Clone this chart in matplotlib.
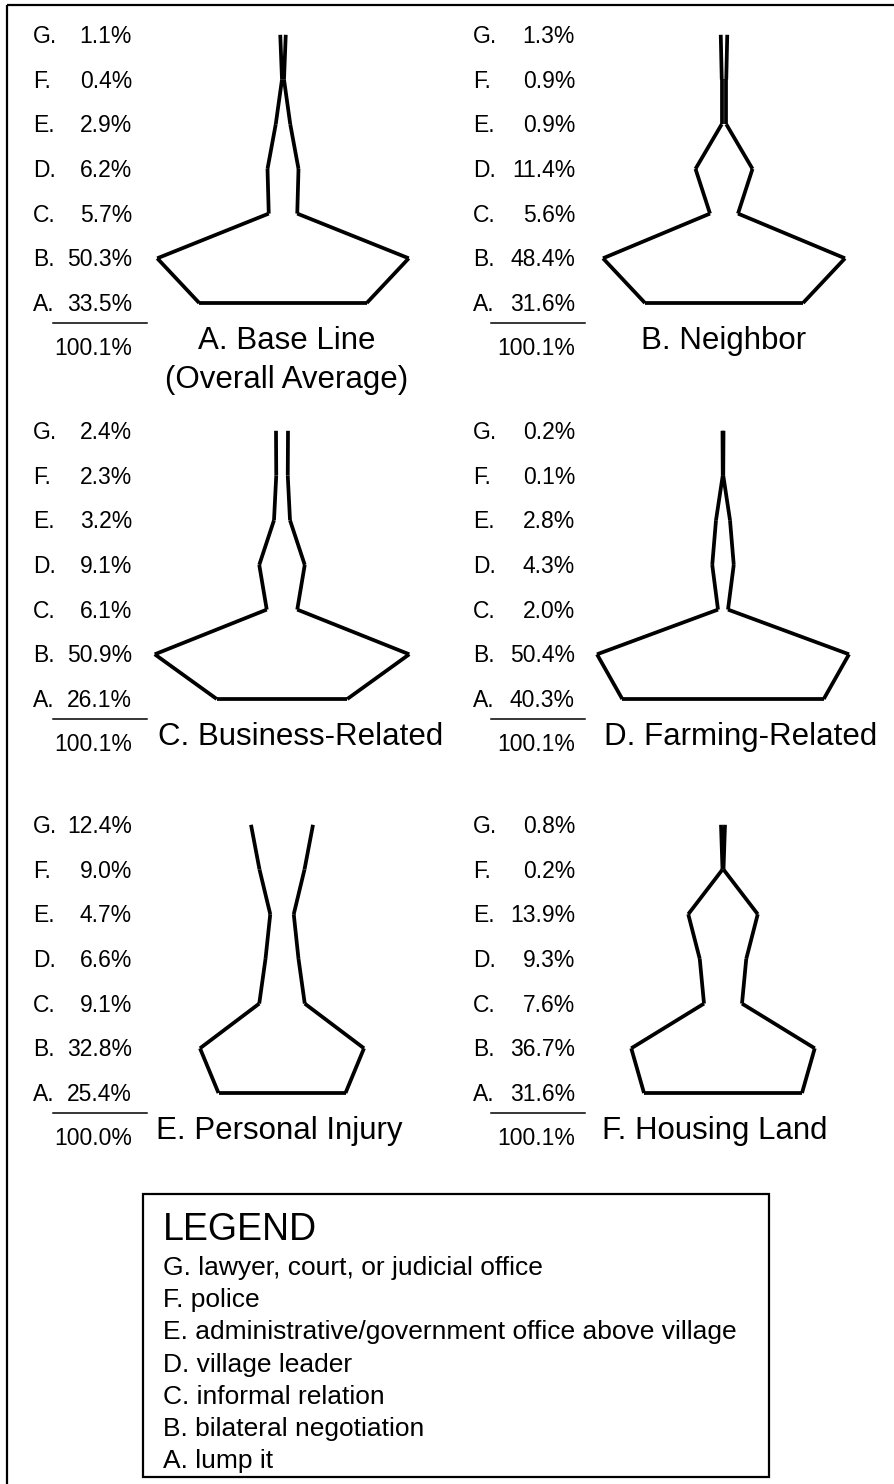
import matplotlib
matplotlib.use('Agg')
import matplotlib.pyplot as plt
from matplotlib.patches import Rectangle

plt.rcParams['font.family'] = ['Liberation Sans', 'DejaVu Sans']

# levels from the bottom of each shape (A) to the top (G)
levels = ['A', 'B', 'C', 'D', 'E', 'F', 'G']
level_names = ['lump it', 'bilateral negotiation', 'informal relation',
               'village leader', 'administrative/government office above village',
               'police', 'lawyer, court, or judicial office']

titles = ['A. Base Line\n(Overall Average)', 'B. Neighbor', 'C. Business-Related',
          'D. Farming-Related', 'E. Personal Injury', 'F. Housing Land']

# percentages A..G for each dispute type
base_line = [33.5, 50.3, 5.7, 6.2, 2.9, 0.4, 1.1]
neighbor = [31.6, 48.4, 5.6, 11.4, 0.9, 0.9, 1.3]
business = [26.1, 50.9, 6.1, 9.1, 3.2, 2.3, 2.4]
farming = [40.3, 50.4, 2.0, 4.3, 2.8, 0.1, 0.2]
injury = [25.4, 32.8, 9.1, 6.6, 4.7, 9.0, 12.4]
housing = [31.6, 36.7, 7.6, 9.3, 13.9, 0.2, 0.8]
panels = [base_line, neighbor, business, farming, injury, housing]

# layout (pixels)
W, H = 894, 1484
STEP = 44.7           # vertical distance between levels
PX_PER_PCT = 5.0      # full width of shape per percent
shape_cx = [283, 724, 282, 723, 282, 723]
level_a_y = [303, 303, 699, 699, 1093, 1093]
# letter x, percent right edge, underline start, underline end
label_cols = [(33, 132, 53, 147), (473, 575, 491, 585)]
title_pos = [(287, 'center'), (724, 'center'), (158, 'left'),
             (604, 'left'), (156, 'left'), (602, 'left')]

LBL_FS = 16.5
TITLE_FS = 22.5
LW = 2.7

fig = plt.figure(figsize=(W / 100, H / 100), dpi=100)
bg = fig.add_axes([0, 0, 1, 1])
bg.set_xlim(0, W)
bg.set_ylim(H, 0)
bg.axis('off')

# frame (left and top only)
bg.plot([7, W], [5, 5], color='black', lw=1.6, solid_capstyle='butt')
bg.plot([7, 7], [5, H], color='black', lw=1.6, solid_capstyle='butt')

for i, vals in enumerate(panels):
    cx = shape_cx[i]
    ya = level_a_y[i]

    # shape in its own axes: x in percent, y in level index
    ax = fig.add_axes([(cx - 220) / W, 1 - (ya + 30) / H, 440 / W, (6 * STEP + 60) / H])
    ax.set_xlim(-220 / PX_PER_PCT, 220 / PX_PER_PCT)
    ax.set_ylim(-30 / STEP, 6 + 30 / STEP)
    ax.axis('off')
    half = [v / 2 for v in vals]
    ax.plot([-half[0], half[0]], [0, 0], color='black', lw=LW,
            solid_capstyle='butt', clip_on=False)
    for k in range(len(levels) - 1):
        for s in (-1, 1):
            ax.plot([s * half[k], s * half[k + 1]], [k, k + 1], color='black', lw=LW,
                    solid_capstyle='butt', clip_on=False)

    # labels on the left
    lx, rx, u0, u1 = label_cols[i % 2]
    for j, (lv, v) in enumerate(zip(levels, vals)):
        y = ya - j * STEP + 8
        bg.text(lx, y, f'{lv}.', ha='left', va='baseline', fontsize=LBL_FS)
        bg.text(rx, y, f'{v:.1f}%', ha='right', va='baseline', fontsize=LBL_FS)
    bg.plot([u0, u1], [ya + 20, ya + 20], color='black', lw=1.1)
    bg.text(rx, ya + 52, f'{round(sum(vals), 1):.1f}%', ha='right', va='baseline',
            fontsize=LBL_FS)

    # title
    tx, tha = title_pos[i]
    for n, line in enumerate(titles[i].split('\n')):
        bg.text(tx, ya + 46 + n * 39, line, ha=tha, va='baseline', fontsize=TITLE_FS)

# legend box
bg.add_patch(Rectangle((143, 1194), 626, 283, fill=False, edgecolor='black', lw=1.6))
bg.text(163, 1240, 'LEGEND', ha='left', va='baseline', fontsize=27)
for n, k in enumerate(reversed(range(len(levels)))):
    bg.text(163, 1275 + n * 32.2, f'{levels[k]}. {level_names[k]}', ha='left',
            va='baseline', fontsize=19)

fig.savefig('out.png', dpi=100)
